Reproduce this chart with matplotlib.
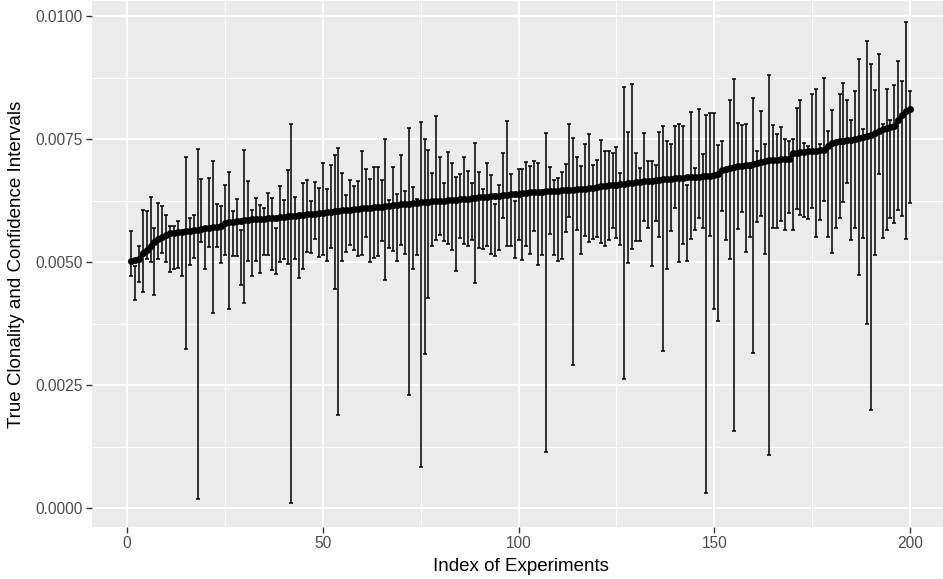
import numpy as np
import matplotlib.pyplot as plt

# ==========================================
# DATA (values read in units of 1e-4)
# ==========================================
experiment_index = list(range(1, 201))

true_clonality_e4 = [
    50.3, 50.5, 50.6, 51.8, 52.5, 53.3, 54.1, 54.8, 55.2, 55.6,
    55.9, 56.0, 56.1, 56.2, 56.3, 56.4, 56.5, 56.6, 56.8, 56.9,
    57.0, 57.1, 57.2, 57.4, 58.0, 58.1, 58.2, 58.3, 58.4, 58.5,
    58.6, 58.7, 58.7, 58.8, 58.8, 58.9, 58.9, 59.0, 59.1, 59.2,
    59.3, 59.4, 59.4, 59.5, 59.6, 59.7, 59.8, 59.8, 59.9, 60.0,
    60.1, 60.2, 60.3, 60.4, 60.5, 60.6, 60.7, 60.8, 60.9, 61.0,
    61.0, 61.1, 61.2, 61.2, 61.3, 61.4, 61.5, 61.6, 61.7, 61.8,
    61.8, 61.9, 62.0, 62.1, 62.2, 62.2, 62.3, 62.4, 62.4, 62.5,
    62.5, 62.6, 62.7, 62.7, 62.8, 62.9, 62.9, 63.0, 63.1, 63.2,
    63.2, 63.3, 63.4, 63.5, 63.5, 63.6, 63.7, 63.8, 63.9, 63.9,
    64.1, 64.1, 64.2, 64.2, 64.3, 64.3, 64.4, 64.4, 64.5, 64.5,
    64.6, 64.6, 64.7, 64.7, 64.8, 64.8, 64.9, 65.0, 65.1, 65.3,
    65.4, 65.5, 65.6, 65.7, 65.7, 65.8, 65.9, 66.0, 66.1, 66.2,
    66.3, 66.4, 66.5, 66.6, 66.7, 66.8, 66.9, 67.0, 67.0, 67.1,
    67.2, 67.2, 67.3, 67.3, 67.4, 67.4, 67.5, 67.5, 67.6, 67.7,
    68.0, 68.7, 69.0, 69.2, 69.3, 69.5, 69.6, 69.7, 69.8, 70.0,
    70.2, 70.3, 70.6, 70.7, 70.8, 70.8, 70.9, 71.0, 71.0, 72.1,
    72.2, 72.3, 72.4, 72.5, 72.6, 72.7, 72.8, 72.9, 73.7, 74.2,
    74.5, 74.6, 74.7, 74.8, 74.8, 75.0, 75.2, 75.4, 75.6, 75.9,
    76.2, 76.6, 77.0, 77.3, 77.5, 77.6, 78.9, 79.9, 80.8, 81.2,
]

upper_ci_e4 = [
    56.4, 49.3, 53.3, 60.7, 60.4, 63.2, 56.9, 62.0, 61.4, 59.6,
    57.3, 57.4, 58.4, 56.1, 71.3, 58.9, 59.6, 73.1, 66.9, 57.0,
    67.2, 70.6, 61.8, 61.4, 65.6, 68.4, 60.4, 62.9, 56.5, 72.9,
    66.4, 60.5, 63.1, 61.6, 61.0, 64.1, 63.1, 57.0, 65.4, 62.7,
    68.8, 78.0, 63.3, 59.0, 66.0, 66.8, 62.4, 66.3, 65.0, 70.2,
    64.9, 69.7, 71.7, 73.3, 68.2, 63.7, 66.8, 65.4, 66.5, 72.5,
    69.0, 66.9, 69.4, 69.3, 66.8, 75.1, 62.6, 69.3, 63.8, 71.8,
    64.4, 77.3, 65.2, 62.9, 78.5, 75.0, 72.9, 68.2, 79.7, 71.3,
    66.0, 72.4, 70.2, 67.3, 68.0, 71.3, 68.6, 66.1, 74.3, 68.4,
    64.9, 70.1, 67.8, 61.8, 65.6, 72.1, 78.8, 68.0, 62.4, 69.0,
    69.0, 70.3, 69.5, 70.6, 70.1, 63.7, 76.3, 69.3, 66.8, 67.2,
    68.4, 69.9, 78.0, 75.2, 71.3, 69.5, 74.0, 76.1, 69.8, 70.7,
    74.8, 72.7, 72.5, 72.1, 73.5, 68.2, 85.6, 76.5, 86.3, 72.1,
    69.1, 76.3, 70.6, 70.5, 69.8, 76.5, 77.6, 74.7, 74.1, 77.6,
    78.1, 77.6, 65.7, 80.5, 69.1, 81.2, 72.0, 79.9, 80.3, 80.4,
    73.9, 74.7, 68.3, 82.9, 87.3, 78.2, 77.8, 78.0, 69.1, 83.3,
    72.5, 80.7, 74.0, 88.0, 77.8, 76.1, 77.4, 75.0, 74.6, 75.1,
    81.4, 82.9, 74.3, 73.7, 84.1, 85.3, 74.0, 87.5, 76.6, 81.0,
    74.3, 84.1, 86.4, 82.9, 78.9, 84.8, 91.4, 77.0, 95.0, 90.2,
    85.0, 92.4, 78.1, 85.2, 79.0, 86.0, 91.0, 86.8, 98.8, 84.9,
]

lower_ci_e4 = [
    47.1, 42.4, 46.0, 43.9, 50.6, 50.1, 43.4, 50.7, 51.8, 50.1,
    48.0, 48.6, 48.8, 47.1, 32.4, 49.5, 50.9, 1.9, 54.1, 48.7,
    53.1, 39.6, 53.1, 49.8, 51.4, 40.5, 51.3, 51.3, 45.4, 41.6,
    50.2, 47.1, 50.2, 47.8, 51.4, 51.4, 48.4, 47.5, 50.1, 50.6,
    49.7, 1.1, 50.6, 46.7, 48.6, 52.1, 51.8, 54.7, 51.0, 51.4,
    50.3, 52.8, 44.6, 19.0, 50.2, 52.0, 53.5, 52.5, 51.2, 51.4,
    55.2, 50.1, 50.9, 51.3, 54.3, 46.4, 52.8, 52.2, 50.3, 53.5,
    51.7, 23.0, 48.6, 51.4, 8.3, 31.3, 42.7, 53.2, 54.6, 55.5,
    54.3, 53.7, 52.5, 48.2, 55.0, 53.7, 53.3, 54.6, 45.7, 52.8,
    52.7, 53.3, 51.6, 51.2, 52.5, 58.9, 53.3, 53.3, 50.9, 54.6,
    50.5, 53.2, 51.6, 56.3, 49.5, 51.4, 11.4, 55.8, 51.4, 50.2,
    50.6, 56.1, 59.2, 29.1, 56.5, 51.6, 55.4, 54.0, 54.8, 55.2,
    53.9, 53.2, 54.6, 57.0, 55.0, 53.5, 26.3, 49.9, 52.7, 54.3,
    54.3, 58.4, 57.0, 49.3, 58.4, 55.1, 32.0, 48.6, 56.3, 61.0,
    50.1, 53.7, 50.2, 54.8, 56.6, 58.9, 56.9, 3.1, 55.4, 40.5,
    38.0, 60.4, 54.6, 50.6, 15.6, 56.7, 60.1, 52.1, 55.2, 31.6,
    58.1, 59.3, 51.7, 10.7, 56.9, 56.9, 58.4, 56.6, 59.9, 56.6,
    60.8, 59.6, 59.2, 58.8, 61.1, 55.1, 58.6, 62.4, 55.1, 51.8,
    56.9, 59.0, 62.3, 66.0, 54.4, 56.9, 47.3, 55.0, 37.4, 19.9,
    51.4, 67.9, 55.0, 56.5, 58.9, 58.0, 60.5, 59.3, 54.8, 62.0,
]

x_ticks = [0, 50, 100, 150, 200]
y_ticks = [0.0, 0.0025, 0.0050, 0.0075, 0.0100]
y_tick_labels = ["0.0000", "0.0025", "0.0050", "0.0075", "0.0100"]

# ==========================================
# PLOT (ggplot2 grey theme look)
# ==========================================
plt.rcParams['font.family'] = ['Liberation Sans', 'DejaVu Sans']

x = np.array(experiment_index)
center = np.array(true_clonality_e4) / 1e4
upper = np.array(upper_ci_e4) / 1e4
lower = np.array(lower_ci_e4) / 1e4

fig = plt.figure(figsize=(9.43, 5.79), dpi=100)
ax = fig.add_axes([92 / 943, 52.3 / 579, 857 / 943, 525.2 / 579])
ax.set_facecolor('#EBEBEB')
for side in ax.spines.values():
    side.set_visible(False)

# grid
ax.set_xticks(x_ticks)
ax.set_xticks([25, 75, 125, 175], minor=True)
ax.set_yticks(y_ticks)
ax.set_yticklabels(y_tick_labels)
ax.set_yticks([0.00125, 0.00375, 0.00625, 0.00875], minor=True)
ax.grid(which='major', color='white', linewidth=1.4)
ax.grid(which='minor', color='white', linewidth=0.7)
ax.set_axisbelow(True)

# error bars with small caps
ax.vlines(x, lower, upper, color='black', linewidth=1.1, zorder=2)
ax.plot(x, upper, linestyle='none', marker='_', markersize=2.8,
        markeredgewidth=1.1, color='black', zorder=2)
ax.plot(x, lower, linestyle='none', marker='_', markersize=2.8,
        markeredgewidth=1.1, color='black', zorder=2)

# true clonality points joined by a line
ax.plot(x, center, color='black', linewidth=1.8, marker='o',
        markersize=4.0, zorder=3)

ax.set_xlim(-8.95, 209.95)
ax.set_ylim(-0.00038, 0.01030)

ax.tick_params(which='major', length=4, width=1.0, color='#333333',
               labelcolor='#4D4D4D', labelsize=11.2, pad=3)
ax.tick_params(which='minor', length=0)

ax.set_xlabel('Index of Experiments', fontsize=13.5, color='black', labelpad=5)
ax.set_ylabel('True Clonality and Confidence Intervals', fontsize=13.5,
              color='black', labelpad=7)

fig.savefig('out.png', dpi=100)
plt.close(fig)
